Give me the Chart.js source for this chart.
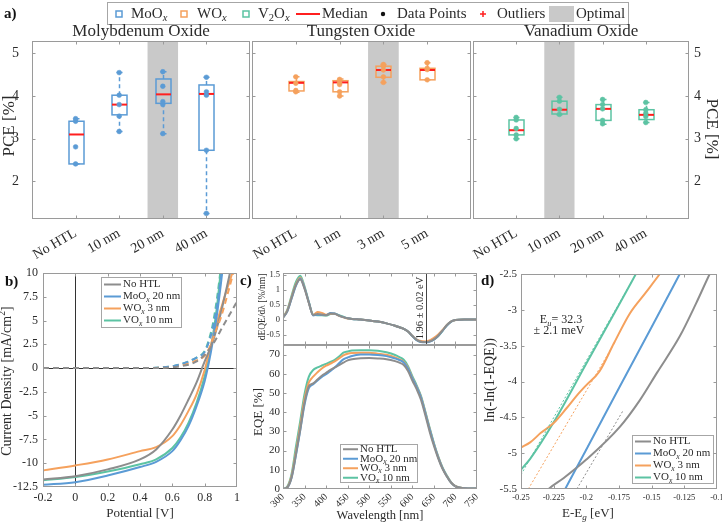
<!DOCTYPE html>
<html lang="en">
<head>
<meta charset="UTF-8">
<title>Hole transport layers</title>
<script src="https://cdn.jsdelivr.net/npm/chart.js"></script>
<style>
  html, body { margin: 0; padding: 0; background: #fff; }
  #fig { position: relative; width: 722px; height: 524px; overflow: hidden; }
  #fig canvas { position: absolute; left: 0; top: 0; }
</style>
</head>
<body>
<div id="fig"></div>
<script>
// ---------- a) PCE box plots ----------
const moLabels = ['No HTL', '10 nm', '20 nm', '40 nm'];
const wLabels = ['No HTL', '1 nm', '3 nm', '5 nm'];
const vLabels = ['No HTL', '10 nm', '20 nm', '40 nm'];
const pceTicks = [2, 3, 4, 5];
// each box: [lower whisker, q1, median, q3, upper whisker]
const moBoxes = [[2.41, 2.41, 3.10, 3.41, 3.47], [3.17, 3.56, 3.80, 4.02, 4.55], [3.12, 3.83, 4.04, 4.40, 4.57], [1.25, 2.73, 4.05, 4.26, 4.44]];
const moPoints = [[2.41, 2.81, 3.41, 3.47], [3.17, 3.53, 3.80, 4.02, 4.55], [3.12, 3.80, 3.87, 4.23, 4.57], [1.25, 2.73, 4.02, 4.10, 4.44]];
const wBoxes = [[4.09, 4.12, 4.31, 4.34, 4.45], [4.00, 4.10, 4.32, 4.36, 4.40], [4.32, 4.44, 4.61, 4.70, 4.74], [4.38, 4.38, 4.61, 4.65, 4.78]];
const wPoints = [[4.10, 4.13, 4.30, 4.45], [4.00, 4.10, 4.27, 4.32, 4.39], [4.32, 4.45, 4.61, 4.70, 4.74], [4.38, 4.62, 4.65, 4.78]];
const vBoxes = [[3.00, 3.09, 3.20, 3.44, 3.50], [3.56, 3.58, 3.68, 3.88, 3.97], [3.34, 3.43, 3.70, 3.80, 3.92], [3.38, 3.45, 3.56, 3.68, 3.85]];
const vPoints = [[3.00, 3.09, 3.24, 3.44, 3.50], [3.57, 3.69, 3.88, 3.97], [3.35, 3.43, 3.70, 3.80, 3.92], [3.38, 3.52, 3.60, 3.68, 3.85]];
const moOptimal = 3, wOptimal = 3, vOptimal = 2;

// ---------- b) J-V curves ----------
const jvVTicks = [-0.2, 0, 0.2, 0.4, 0.6, 0.8, 1];
const jvJTicks = [-12.5, -10, -7.5, -5, -2.5, 0, 2.5, 5, 7.5, 10];
const lightV = [-0.2, 0, 0.2, 0.4, 0.5, 0.6, 0.65, 0.7, 0.75, 0.8, 0.825, 0.85, 0.875, 0.9, 0.925, 0.95, 0.975, 1.0];
const jLightNone = [-11.7, -11.36, -10.65, -9.6, -8.55, -6.45, -5.0, -3.3, -1.5, 0.7, 1.7, 2.8, 4.2, 5.8, 7.6, 9.5, 11.5, 13.5];
const jLightMo = [-12.27, -11.99, -11.29, -10.4, -9.85, -8.73, -7.6, -6.1, -4.0, -1.37, 0.5, 2.8, 5.5, 8.8, 12.5, 16, 20, 24];
const jLightW = [-10.76, -10.23, -9.6, -8.73, -8.3, -7.15, -6.0, -4.5, -2.75, -0.2, 1.5, 3.2, 4.8, 6.2, 7.6, 8.9, 10.2, 11.5];
const jLightV = [-11.8, -11.46, -10.87, -10.1, -9.6, -8.4, -7.3, -5.75, -3.65, -0.85, 1.1, 3.3, 6.3, 10.3, 14.5, 19, 23, 27];
const darkV = [-0.2, 0, 0.2, 0.4, 0.5, 0.6, 0.65, 0.7, 0.75, 0.8, 0.825, 0.85, 0.875, 0.9, 0.95, 1.0];
const jDarkNone = [0, 0, 0, 0, 0.02, 0.1, 0.2, 0.35, 0.7, 1.4, 1.9, 2.5, 3.2, 4.0, 5.5, 7.0];
const jDarkMo = [0, 0, 0, 0, 0.03, 0.2, 0.4, 0.7, 1.1, 1.7, 2.7, 4.2, 6.5, 9.5, 16, 24];
const jDarkW = [0, 0, 0, 0, 0.02, 0.15, 0.3, 0.5, 0.8, 1.3, 2.0, 3.0, 4.2, 5.3, 8.3, 11.5];
const jDarkV = [0, 0, 0, 0, 0.03, 0.2, 0.4, 0.7, 1.1, 1.8, 2.9, 4.6, 7.2, 10.5, 17, 25];

// ---------- c) EQE and its derivative ----------
const wlTicks = [300, 350, 400, 450, 500, 550, 600, 650, 700, 750];
const eqeTicks = [0, 10, 20, 30, 40, 50, 60, 70];
const deqeTicks = [-0.5, 0, 0.5, 1, 1.5];
const wavelengths = [300, 310, 320, 330, 340, 350, 360, 370, 380, 390, 400, 410, 420, 430, 440, 450, 460, 480, 500, 520, 540, 560, 570, 580, 590, 600, 610, 620, 630, 640, 650, 660, 670, 680, 690, 700, 720, 750];
const eqeNone = [0, 0.8, 6, 18, 31, 45, 53.5, 55, 57, 59, 60.5, 62, 63.3, 64.5, 65.8, 67, 67.6, 68.1, 68.2, 68, 67.6, 66.6, 65.8, 64.6, 61.5, 56.5, 52, 46.5, 38.5, 30, 22.5, 16, 10.5, 6.5, 3.2, 1.4, 0.4, 0.2];
const eqeMo = [0, 0.8, 6, 17.5, 30.5, 44, 52.5, 54.5, 56.5, 58.3, 59.8, 61.5, 63.3, 65.5, 67.5, 68.5, 69.3, 70.0, 70.1, 69.8, 69.2, 68.0, 67.2, 65.9, 62.8, 57.7, 53.2, 47.8, 39.7, 31.2, 23.4, 16.5, 10.9, 6.7, 3.3, 1.4, 0.4, 0.2];
const eqeW = [0, 1.0, 7, 19.5, 33, 47, 55.5, 58.5, 60.8, 62.8, 64.2, 65.3, 66.5, 68.0, 69.6, 70.4, 70.8, 71.0, 71.0, 70.5, 69.9, 68.5, 67.5, 66.3, 63.2, 58.0, 53.4, 48.0, 40.0, 31.5, 23.6, 16.7, 11.0, 6.8, 3.4, 1.5, 0.4, 0.2];
const eqeV = [0, 1.3, 8, 22, 35.5, 49.5, 58.5, 62.0, 63.3, 64.3, 65.2, 66.2, 67.3, 69.0, 71.0, 71.6, 72.1, 72.3, 72.3, 72.0, 71.2, 69.8, 68.7, 67.3, 64.0, 58.8, 54.0, 48.5, 40.5, 32.0, 24.0, 17.0, 11.2, 7.0, 3.5, 1.5, 0.4, 0.2];
const deqeNone = [0.06, 0.28, 0.72, 1.15, 1.33, 1.02, 0.55, 0.15, 0.18, 0.17, 0.14, 0.2, 0.19, 0.13, 0.08, 0.04, 0.02, 0.0, -0.03, -0.07, -0.13, -0.21, -0.26, -0.31, -0.4, -0.55, -0.68, -0.74, -0.75, -0.73, -0.66, -0.54, -0.37, -0.19, -0.07, -0.02, 0, 0];
const deqeMo = [0.06, 0.27, 0.7, 1.12, 1.37, 1.05, 0.57, 0.13, 0.16, 0.15, 0.15, 0.22, 0.2, 0.13, 0.08, 0.04, 0.02, 0.0, -0.03, -0.07, -0.13, -0.21, -0.26, -0.31, -0.4, -0.55, -0.69, -0.75, -0.76, -0.74, -0.67, -0.55, -0.38, -0.2, -0.07, -0.02, 0, 0];
const deqeW = [0.07, 0.3, 0.75, 1.18, 1.4, 1.06, 0.56, 0.15, 0.25, 0.22, 0.16, 0.19, 0.19, 0.12, 0.07, 0.03, 0.02, 0.0, -0.03, -0.07, -0.13, -0.21, -0.26, -0.31, -0.4, -0.54, -0.67, -0.72, -0.73, -0.7, -0.61, -0.5, -0.35, -0.18, -0.06, -0.02, 0, 0];
const deqeV = [0.07, 0.32, 0.8, 1.25, 1.46, 1.1, 0.58, 0.16, 0.14, 0.14, 0.13, 0.18, 0.19, 0.14, 0.09, 0.04, 0.02, 0.0, -0.03, -0.07, -0.13, -0.21, -0.26, -0.31, -0.4, -0.55, -0.68, -0.74, -0.75, -0.73, -0.66, -0.55, -0.38, -0.19, -0.07, -0.02, 0, 0];
const bandgapNm = 632.6; // 1.96 eV

// ---------- d) Urbach tails ----------
const urbXTicks = [-0.25, -0.225, -0.2, -0.175, -0.15, -0.125, -0.1];
const urbYTicks = [-5.5, -5, -4.5, -4, -3.5, -3, -2.5];
const urbNoneE = [-0.235, -0.2289, -0.2175, -0.2, -0.1742, -0.159, -0.146, -0.1285, -0.116, -0.1056, -0.1];
const urbNoneY = [-5.62, -5.5, -5.35, -5.09, -4.63, -4.26, -3.88, -3.37, -2.91, -2.5, -2.3];
const urbMoE = [-0.22, -0.2, -0.175, -0.15, -0.125];
const urbMoY = [-5.63, -4.95, -4.09, -3.24, -2.38];
const urbWE = [-0.25, -0.243, -0.235, -0.225, -0.215, -0.207, -0.2, -0.19, -0.179, -0.1667, -0.155, -0.1438, -0.14];
const urbWY = [-4.92, -4.85, -4.72, -4.58, -4.37, -4.19, -4.05, -3.86, -3.47, -3.05, -2.77, -2.5, -2.4];
const urbVE = [-0.25, -0.243, -0.225, -0.2, -0.175, -0.16];
const urbVY = [-5.23, -5.08, -4.57, -3.75, -2.93, -2.43];
const fitNoneE = [-0.2073, -0.1717], fitNoneY = [-5.5, -4.4];
const fitMoE = [-0.2162, -0.1285], fitMoY = [-5.5, -2.5];
const fitWE = [-0.2444, -0.178], fitWY = [-5.5, -3.45];
const fitVE = [-0.25, -0.162], fitVY = [-5.3, -2.5];

const curveNames = [['No HTL'], ['MoO', ['x', 'isub'], ' 20 nm'], ['WO', ['x', 'isub'], ' 3 nm'], ['VO', ['x', 'isub'], ' 10 nm']];

// ---------- style ----------
const W = 722, H = 524;
const FONT = '"Liberation Serif", "Times New Roman", serif';
const TEXT = '#2b2b2b';
const AXIS = '#9a9a9a';
const SHADE = '#c9c9c9';
const MEDIAN = '#ff1f1f';
const colNone = '#8d8d8d', colMo = '#5b9bd5', colW = '#f5a15d', colV = '#5cc3a3';
const curveColors = [colNone, colMo, colW, colV];

Chart.defaults.font.family = FONT;
const fig = document.getElementById('fig');

function addCanvas() {
  const c = document.createElement('canvas');
  c.width = W; c.height = H;
  fig.appendChild(c);
  return c;
}

// text with sub/superscripts: parts are strings or [text, mode]
function rich(ctx, x, y, parts, size, opt = {}) {
  const segs = parts.map(p => typeof p === 'string' ? [p, ''] : p);
  const fontOf = m => {
    const small = m === 'sub' || m === 'isub' || m === 'sup';
    return (m === 'isub' || m === 'i' ? 'italic ' : '') + (opt.bold ? 'bold ' : '') + (small ? size * 0.7 : size) + 'px ' + FONT;
  };
  ctx.save();
  let w = 0;
  segs.forEach(([t, m]) => { ctx.font = fontOf(m); w += ctx.measureText(t).width; });
  ctx.translate(x, y);
  if (opt.rotate) ctx.rotate(opt.rotate);
  let cx = opt.align === 'center' ? -w / 2 : opt.align === 'right' ? -w : 0;
  ctx.fillStyle = opt.color || TEXT;
  ctx.textBaseline = 'middle';
  ctx.textAlign = 'left';
  segs.forEach(([t, m]) => {
    ctx.font = fontOf(m);
    const dy = (m === 'sub' || m === 'isub') ? size * 0.28 : m === 'sup' ? -size * 0.33 : 0;
    ctx.fillText(t, cx, dy);
    cx += ctx.measureText(t).width;
  });
  ctx.restore();
}

function curveLegend(ctx, x, y, w, h, step, lineLen, size) {
  ctx.save();
  ctx.fillStyle = '#fff';
  ctx.fillRect(x, y, w, h);
  ctx.strokeStyle = '#a6a6a6';
  ctx.lineWidth = 1;
  ctx.strokeRect(x + 0.5, y + 0.5, w, h);
  const first = y + h / 2 - 1.5 * step + 0.5;
  curveNames.forEach((name, i) => {
    const cy = first + i * step;
    ctx.strokeStyle = curveColors[i];
    ctx.lineWidth = 2;
    ctx.beginPath(); ctx.moveTo(x + 3, cy); ctx.lineTo(x + 3 + lineLen, cy); ctx.stroke();
    rich(ctx, x + 5 + lineLen, cy, name, size);
  });
  ctx.restore();
}

// box with inward ticks on all four sides
const frame = {
  id: 'frame',
  afterDraw(chart) {
    const { ctx, chartArea: a, scales } = chart;
    const L = Math.round(a.left) + 0.5, R = Math.round(a.right) - 0.5;
    const T = Math.round(a.top) + 0.5, B = Math.round(a.bottom) - 0.5;
    ctx.save();
    ctx.strokeStyle = AXIS;
    ctx.lineWidth = 1;
    ctx.strokeRect(L, T, R - L, B - T);
    ctx.beginPath();
    scales.x.ticks.forEach(t => {
      const p = Math.round(scales.x.getPixelForValue(t.value)) + 0.5;
      if (p <= L + 1 || p >= R - 1) return;
      ctx.moveTo(p, B); ctx.lineTo(p, B - 3);
      ctx.moveTo(p, T); ctx.lineTo(p, T + 3);
    });
    scales.y.ticks.forEach(t => {
      const p = Math.round(scales.y.getPixelForValue(t.value)) + 0.5;
      if (p <= T + 1 || p >= B - 1) return;
      ctx.moveTo(L, p); ctx.lineTo(L + 3, p);
      ctx.moveTo(R, p); ctx.lineTo(R - 3, p);
    });
    ctx.stroke();
    ctx.restore();
  }
};

function fmt(v) { return String(+(+v).toFixed(3)); }

function axis(min, max, tickVals, size, tickOpts = {}, position) {
  const s = {
    type: 'linear', min, max,
    grid: { display: false, drawTicks: false },
    border: { display: false },
    afterBuildTicks: sc => { sc.ticks = tickVals.map(v => ({ value: v })); },
    ticks: Object.assign({ font: { family: FONT, size }, color: TEXT, autoSkip: false, maxRotation: 0, minRotation: 0, padding: 4, callback: v => fmt(v) }, tickOpts)
  };
  if (position) s.position = position;
  return s;
}

// the plot area is fixed in figure pixels; each axis takes the whole margin on its side
function baseOptions(area, scales) {
  const edge = { left: area[0], top: area[1], right: W - area[2], bottom: H - area[3] };
  const pad = Object.assign({}, edge);
  for (const [id, s] of Object.entries(scales)) {
    const pos = s.position || (id === 'x' ? 'bottom' : 'left');
    const size = edge[pos];
    pad[pos] = 0;
    s.afterFit = sc => {
      if (sc.isHorizontal()) sc.height = size; else sc.width = size;
      sc.paddingLeft = sc.paddingRight = sc.paddingTop = sc.paddingBottom = 0;
    };
  }
  return {
    responsive: false, animation: false, events: [], devicePixelRatio: 1,
    layout: { padding: pad },
    plugins: { legend: { display: false }, tooltip: { enabled: false } },
    scales
  };
}

function curve(xs, ys, color, extra = {}) {
  return Object.assign({
    data: xs.map((x, i) => ({ x, y: ys[i] })),
    showLine: true, borderColor: color, backgroundColor: color, borderWidth: 2,
    pointRadius: 0, cubicInterpolationMode: 'monotone', fill: false
  }, extra);
}

// ---------- panel a ----------
function boxPanel(area, labels, boxes, points, color, optimal, side, extraDraw) {
  const pts = [];
  points.forEach((vals, i) => vals.forEach(v => pts.push({ x: i + 1, y: v })));
  const boxesPlugin = {
    id: 'boxes',
    beforeDatasetsDraw(chart) {
      const { ctx, chartArea: a, scales: { x, y } } = chart;
      ctx.save();
      ctx.fillStyle = SHADE;
      const x0 = x.getPixelForValue(optimal - 0.35), x1 = x.getPixelForValue(optimal + 0.35);
      ctx.fillRect(x0, a.top, x1 - x0, a.bottom - a.top);
      boxes.forEach((b, i) => {
        const cx = Math.round(x.getPixelForValue(i + 1)) + 0.5, hw = 7.5;
        const [lo, q1, med, q3, hi] = b.map(v => y.getPixelForValue(v));
        ctx.strokeStyle = color;
        ctx.lineWidth = 1.5;
        ctx.setLineDash([4, 3]);
        ctx.beginPath();
        ctx.moveTo(cx, q3); ctx.lineTo(cx, hi);
        ctx.moveTo(cx, q1); ctx.lineTo(cx, lo);
        ctx.stroke();
        ctx.setLineDash([]);
        ctx.beginPath();
        ctx.moveTo(cx - 3, hi); ctx.lineTo(cx + 3, hi);
        ctx.moveTo(cx - 3, lo); ctx.lineTo(cx + 3, lo);
        ctx.stroke();
        ctx.strokeRect(cx - hw, q3, 2 * hw, q1 - q3);
        ctx.strokeStyle = MEDIAN;
        ctx.lineWidth = 2;
        ctx.beginPath(); ctx.moveTo(cx - hw, med); ctx.lineTo(cx + hw, med); ctx.stroke();
      });
      ctx.restore();
    },
    afterDraw(chart) { if (extraDraw) extraDraw(chart.ctx); }
  };
  const yTicks = side === 'none' ? { display: false } : { padding: side === 'right' ? 5 : 13 };
  return new Chart(addCanvas(), {
    type: 'scatter',
    data: { datasets: [{ data: pts, pointRadius: 2.4, pointBackgroundColor: color, pointBorderColor: color, pointBorderWidth: 0.5 }] },
    options: baseOptions(area, {
      x: axis(0, 5, [1, 2, 3, 4], 14, { callback: v => labels[v - 1], minRotation: 30, maxRotation: 30, padding: 6 }),
      y: axis(1.12, 5.29, pceTicks, 14, yTicks, side === 'right' ? 'right' : 'left')
    }),
    plugins: [boxesPlugin, frame]
  });
}

function figureText(ctx) {
  ctx.save();
  // legend of panel a
  ctx.fillStyle = '#fff';
  ctx.fillRect(107, 2, 521, 23);
  ctx.strokeStyle = '#a6a6a6';
  ctx.lineWidth = 1;
  ctx.strokeRect(107.5, 2.5, 521, 22);
  const cy = 14;
  [[119, colMo], [184, colW], [246, colV]].forEach(([x, c]) => {
    ctx.strokeStyle = c; ctx.lineWidth = 1.5;
    ctx.strokeRect(x - 3, cy - 3, 6, 6);
  });
  rich(ctx, 131, cy, ['MoO', ['x', 'isub']], 15);
  rich(ctx, 197, cy, ['WO', ['x', 'isub']], 15);
  rich(ctx, 258, cy, ['V', ['2', 'sub'], 'O', ['x', 'isub']], 15);
  ctx.strokeStyle = MEDIAN; ctx.lineWidth = 2;
  ctx.beginPath(); ctx.moveTo(296, cy); ctx.lineTo(320, cy); ctx.stroke();
  rich(ctx, 322, cy, ['Median'], 15);
  ctx.fillStyle = '#111';
  ctx.beginPath(); ctx.arc(383, cy, 2.2, 0, Math.PI * 2); ctx.fill();
  rich(ctx, 397, cy, ['Data Points'], 15);
  ctx.strokeStyle = MEDIAN; ctx.lineWidth = 1.5;
  ctx.beginPath(); ctx.moveTo(480, cy); ctx.lineTo(486, cy); ctx.moveTo(483, cy - 3); ctx.lineTo(483, cy + 3); ctx.stroke();
  rich(ctx, 497, cy, ['Outliers'], 15);
  ctx.fillStyle = SHADE;
  ctx.fillRect(549, 6, 25, 16);
  rich(ctx, 576, cy, ['Optimal'], 15);
  // panel letters and titles
  rich(ctx, 4, 14, ['a)'], 15, { bold: true, color: '#111' });
  rich(ctx, 5, 282, ['b)'], 15, { bold: true, color: '#111' });
  rich(ctx, 240, 281, ['c)'], 15, { bold: true, color: '#111' });
  rich(ctx, 481, 281, ['d)'], 15, { bold: true, color: '#111' });
  rich(ctx, 141, 32, ['Molybdenum Oxide'], 17, { align: 'center' });
  rich(ctx, 361, 32, ['Tungsten Oxide'], 17, { align: 'center' });
  rich(ctx, 581, 32, ['Vanadium Oxide'], 17, { align: 'center' });
  rich(ctx, 10, 126, ['PCE [%]'], 17, { align: 'center', rotate: -Math.PI / 2 });
  rich(ctx, 711, 129, ['PCE [%]'], 17, { align: 'center', rotate: Math.PI / 2 });
  ctx.restore();
}

boxPanel([32, 41, 250, 219], moLabels, moBoxes, moPoints, colMo, moOptimal, 'left', figureText);
boxPanel([252, 41, 471, 219], wLabels, wBoxes, wPoints, colW, wOptimal, 'none');
boxPanel([473, 41, 689, 219], vLabels, vBoxes, vPoints, colV, vOptimal, 'right');

// ---------- panel b ----------
const dash = { borderDash: [6, 4] };
new Chart(addCanvas(), {
  type: 'scatter',
  data: {
    datasets: [
      curve(darkV, jDarkNone, colNone, dash),
      curve(darkV, jDarkMo, colMo, dash),
      curve(darkV, jDarkW, colW, dash),
      curve(darkV, jDarkV, colV, dash),
      curve(lightV, jLightNone, colNone),
      curve(lightV, jLightMo, colMo),
      curve(lightV, jLightW, colW),
      curve(lightV, jLightV, colV)
    ]
  },
  options: baseOptions([43, 273, 237, 487], {
    x: axis(-0.2, 1, jvVTicks, 12, { padding: 4 }),
    y: axis(-12.5, 10, jvJTicks, 12, { padding: 5 })
  }),
  plugins: [{
    id: 'zeroLines',
    beforeDatasetsDraw(chart) {
      const { ctx, chartArea: a, scales: { x, y } } = chart;
      const px = Math.round(x.getPixelForValue(0)) + 0.5, py = Math.round(y.getPixelForValue(0)) + 0.5;
      ctx.save();
      ctx.strokeStyle = '#333'; ctx.lineWidth = 1;
      ctx.beginPath();
      ctx.moveTo(px, a.top); ctx.lineTo(px, a.bottom);
      ctx.moveTo(a.left, py); ctx.lineTo(a.right, py);
      ctx.stroke();
      ctx.restore();
    },
    afterDraw(chart) {
      const ctx = chart.ctx;
      curveLegend(ctx, 101, 277, 80, 50, 12, 17, 11);
      rich(ctx, 140, 514, ['Potential [V]'], 13, { align: 'center' });
      rich(ctx, 7, 381, ['Current Density [mA/cm', ['2', 'sup'], ']'], 14, { align: 'center', rotate: -Math.PI / 2 });
    }
  }, frame]
});

// ---------- panel c (top: derivative) ----------
new Chart(addCanvas(), {
  type: 'scatter',
  data: {
    datasets: [
      curve(wavelengths, deqeNone, colNone),
      curve(wavelengths, deqeMo, colMo),
      curve(wavelengths, deqeW, colW),
      curve(wavelengths, deqeV, colV)
    ]
  },
  options: baseOptions([283, 273, 477, 345], {
    x: axis(300, 750, wlTicks, 10, { display: false }),
    y: axis(-0.85, 1.55, deqeTicks, 8.5, { padding: 3 })
  }),
  plugins: [{
    id: 'bandgap',
    afterDatasetsDraw(chart) {
      const { ctx, chartArea: a, scales: { x } } = chart;
      const px = Math.round(x.getPixelForValue(bandgapNm)) + 0.5;
      ctx.save();
      ctx.strokeStyle = '#444'; ctx.lineWidth = 1;
      ctx.beginPath(); ctx.moveTo(px, a.top); ctx.lineTo(px, a.bottom); ctx.stroke();
      ctx.restore();
      rich(ctx, px - 6, 308, ['1.96 ± 0.02 eV'], 10.5, { align: 'center', rotate: -Math.PI / 2 });
      rich(ctx, 262, 307, ['dEQE/dλ [%/nm]'], 9.5, { align: 'center', rotate: -Math.PI / 2 });
    }
  }, frame]
});

// ---------- panel c (bottom: EQE) ----------
new Chart(addCanvas(), {
  type: 'scatter',
  data: {
    datasets: [
      curve(wavelengths, eqeNone, colNone),
      curve(wavelengths, eqeMo, colMo),
      curve(wavelengths, eqeW, colW),
      curve(wavelengths, eqeV, colV)
    ]
  },
  options: baseOptions([283, 345, 477, 489], {
    x: axis(300, 750, wlTicks, 10, { minRotation: 45, maxRotation: 45, padding: 2 }),
    y: axis(0, 75, eqeTicks, 11, { padding: 3 })
  }),
  plugins: [{
    id: 'eqeText',
    afterDraw(chart) {
      const ctx = chart.ctx;
      curveLegend(ctx, 340, 444, 77, 38, 9.5, 15, 11);
      rich(ctx, 380, 516, ['Wavelength [nm]'], 12.5, { align: 'center' });
      rich(ctx, 259, 412, ['EQE [%]'], 13, { align: 'center', rotate: -Math.PI / 2 });
    }
  }, frame]
});

// ---------- panel d ----------
const fitStyle = { borderWidth: 1, borderDash: [2, 2], cubicInterpolationMode: 'default' };
new Chart(addCanvas(), {
  type: 'scatter',
  data: {
    datasets: [
      curve(fitNoneE, fitNoneY, colNone, fitStyle),
      curve(fitMoE, fitMoY, colMo, fitStyle),
      curve(fitWE, fitWY, colW, fitStyle),
      curve(fitVE, fitVY, colV, fitStyle),
      curve(urbNoneE, urbNoneY, colNone),
      curve(urbMoE, urbMoY, colMo),
      curve(urbWE, urbWY, colW),
      curve(urbVE, urbVY, colV)
    ]
  },
  options: baseOptions([521, 274, 717, 489], {
    x: axis(-0.25, -0.1, urbXTicks, 8.5, { padding: 4 }),
    y: axis(-5.5, -2.5, urbYTicks, 11, { padding: 4 })
  }),
  plugins: [{
    id: 'urbachText',
    afterDraw(chart) {
      const ctx = chart.ctx;
      curveLegend(ctx, 632, 435, 81, 48, 12, 16, 11);
      rich(ctx, 588, 514, ['E-E', ['g', 'isub'], ' [eV]'], 13, { align: 'center' });
      rich(ctx, 490, 380, ['ln(-ln(1-EQE))'], 14, { align: 'center', rotate: -Math.PI / 2 });
      rich(ctx, 561, 320, ['E', ['u', 'isub'], '= 32.3'], 12, { align: 'center' });
      rich(ctx, 559, 331, ['± 2.1 meV'], 12, { align: 'center' });
    }
  }, frame]
});
</script>
</body>
</html>
